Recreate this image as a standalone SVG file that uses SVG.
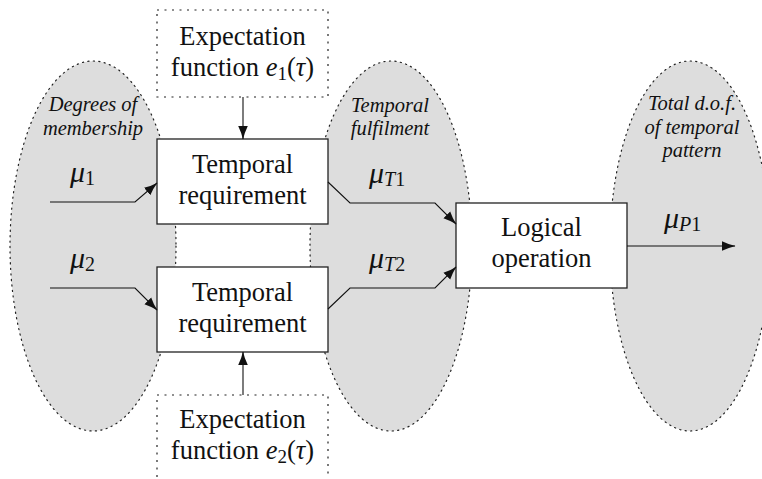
<svg xmlns="http://www.w3.org/2000/svg" width="762" height="479" viewBox="0 0 762 479">
<defs>
<style>
.ell{fill:#dddddd;stroke:#222;stroke-width:1.2;stroke-dasharray:1.2 4.3;stroke-linecap:round}
.dbox{fill:none;stroke:#222;stroke-width:1.2;stroke-dasharray:2 5.5}
.box{fill:#fff;stroke:#222;stroke-width:1.3}
.t{font-family:"Liberation Serif","Times New Roman",serif;font-size:26.5px;fill:#111;text-anchor:middle}
.it{font-family:"Liberation Serif","Times New Roman",serif;font-size:20.5px;font-style:italic;fill:#111;text-anchor:middle}
.m{font-family:"Liberation Serif","Times New Roman",serif;font-size:30px;fill:#111}
.mi{font-style:italic}
.sub{font-size:20px}
.t .sub{font-size:19px}
.c{fill:none;stroke:#111;stroke-width:1.1;marker-end:url(#ah)}
</style>
<marker id="ah" markerUnits="userSpaceOnUse" markerWidth="16" markerHeight="12" refX="13" refY="6" orient="auto" viewBox="0 0 16 12">
<path d="M0,1.2 Q7,4.6 13.5,6 Q7,7.4 0,10.8 z" fill="#111"/>
</marker>
</defs>

<g id="regions">
<ellipse class="ell" cx="93" cy="246" rx="83" ry="185"/>
<ellipse class="ell" cx="391" cy="246" rx="81" ry="185"/>
<ellipse class="ell" cx="690" cy="246" rx="80" ry="185"/>
</g>

<g id="region-labels">
<text class="it" x="93" y="111">Degrees of</text>
<text class="it" x="93" y="135">membership</text>
<text class="it" x="390" y="112">Temporal</text>
<text class="it" x="390" y="135">fulfilment</text>
<text class="it" x="692" y="110">Total d.o.f.</text>
<text class="it" x="692" y="134">of temporal</text>
<text class="it" x="692" y="157">pattern</text>
</g>

<g id="expectation1">
<rect class="dbox" x="157" y="10" width="171" height="87"/>
<text class="t" x="242.5" y="45">Expectation</text>
<text class="t" x="242.5" y="76">function <tspan class="mi">e</tspan><tspan class="sub" dy="4">1</tspan><tspan dy="-4">(</tspan><tspan class="mi">τ</tspan>)</text>
</g>

<g id="expectation2">
<rect class="dbox" x="157" y="395" width="171" height="95"/>
<text class="t" x="242.5" y="428">Expectation</text>
<text class="t" x="242.5" y="459">function <tspan class="mi">e</tspan><tspan class="sub" dy="4">2</tspan><tspan dy="-4">(</tspan><tspan class="mi">τ</tspan>)</text>
</g>

<g id="temporal1">
<rect class="box" x="157" y="139" width="171" height="85"/>
<text class="t" x="242.5" y="173">Temporal</text>
<text class="t" x="242.5" y="203.5">requirement</text>
</g>

<g id="temporal2">
<rect class="box" x="157" y="267" width="171" height="85"/>
<text class="t" x="242.5" y="301">Temporal</text>
<text class="t" x="242.5" y="331.5">requirement</text>
</g>

<g id="logical">
<rect class="box" x="456" y="203" width="171" height="85"/>
<text class="t" x="541.5" y="236">Logical</text>
<text class="t" x="541.5" y="267">operation</text>
</g>

<g id="connectors">
<polyline class="c" points="50,202 135,202 157,183"/>
<polyline class="c" points="50,288 135,288 157,310"/>
<polyline class="c" points="328,182 350,203 435,203 456,224"/>
<polyline class="c" points="328,309 350,288 435,288 456,267"/>
<line class="c" x1="627" y1="246" x2="735" y2="246"/>
<line class="c" x1="243" y1="97" x2="243" y2="139"/>
<line class="c" x1="243" y1="395" x2="243" y2="352"/>
</g>

<g id="connector-labels">
<text class="m" x="70" y="182"><tspan class="mi">μ</tspan><tspan class="sub" dy="3">1</tspan></text>
<text class="m" x="70" y="268"><tspan class="mi">μ</tspan><tspan class="sub" dy="3">2</tspan></text>
<text class="m" x="369" y="183"><tspan class="mi">μ</tspan><tspan class="sub mi" dy="3">T</tspan><tspan class="sub">1</tspan></text>
<text class="m" x="369" y="268"><tspan class="mi">μ</tspan><tspan class="sub mi" dy="3">T</tspan><tspan class="sub">2</tspan></text>
<text class="m" x="664" y="228"><tspan class="mi">μ</tspan><tspan class="sub mi" dy="3">P</tspan><tspan class="sub">1</tspan></text>
</g>
</svg>
